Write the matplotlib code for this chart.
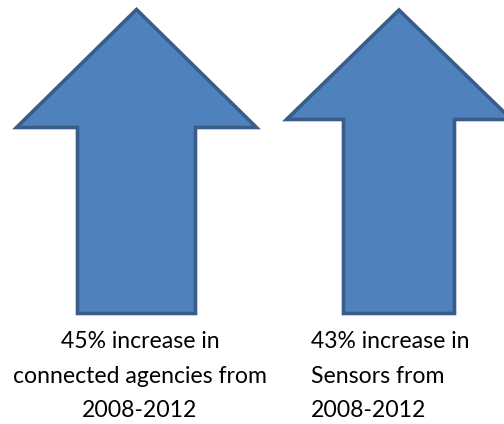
import matplotlib.pyplot as plt
from matplotlib.patches import Polygon

# Datos de las flechas
percent = [45, 43]
captions = ["increase in\nconnected agencies from\n2008-2012",
            "increase in\nSensors from\n2008-2012"]
text_align = ["center", "left"]

# geometria de cada flecha (en pixeles de la figura)
center_x = [136.5, 399]
tip_y = [9.5, 10]
head_y = [127.5, 119.5]
head_half = [120, 112.5]
shaft_half = [59, 55.5]
bottom_y = [313.5, 313.5]

text_x = [140, 311]

fill_color = "#4F81BD"
edge_color = "#385D8A"


def arrow_points(cx, ty, hy, hh, sh, by):
    return [(cx, ty), (cx + hh, hy), (cx + sh, hy), (cx + sh, by),
            (cx - sh, by), (cx - sh, hy), (cx - hh, hy)]


fig = plt.figure(figsize=(5.04, 4.24), dpi=100)
ax = fig.add_axes([0, 0, 1, 1])
ax.set_xlim(0, 504)
ax.set_ylim(424, 0)
ax.axis("off")

for i in range(len(percent)):
    pts = arrow_points(center_x[i], tip_y[i], head_y[i], head_half[i],
                       shaft_half[i], bottom_y[i])
    ax.add_patch(Polygon(pts, closed=True, facecolor=fill_color,
                         edgecolor=edge_color, linewidth=2.6,
                         joinstyle="miter"))
    label = f"{percent[i]}% " + captions[i]
    ax.text(text_x[i], 331, label, ha=text_align[i], va="top",
            multialignment=text_align[i], fontsize=16.6, family="Lato",
            color="black", linespacing=1.8)

fig.savefig("out.png", dpi=100)
